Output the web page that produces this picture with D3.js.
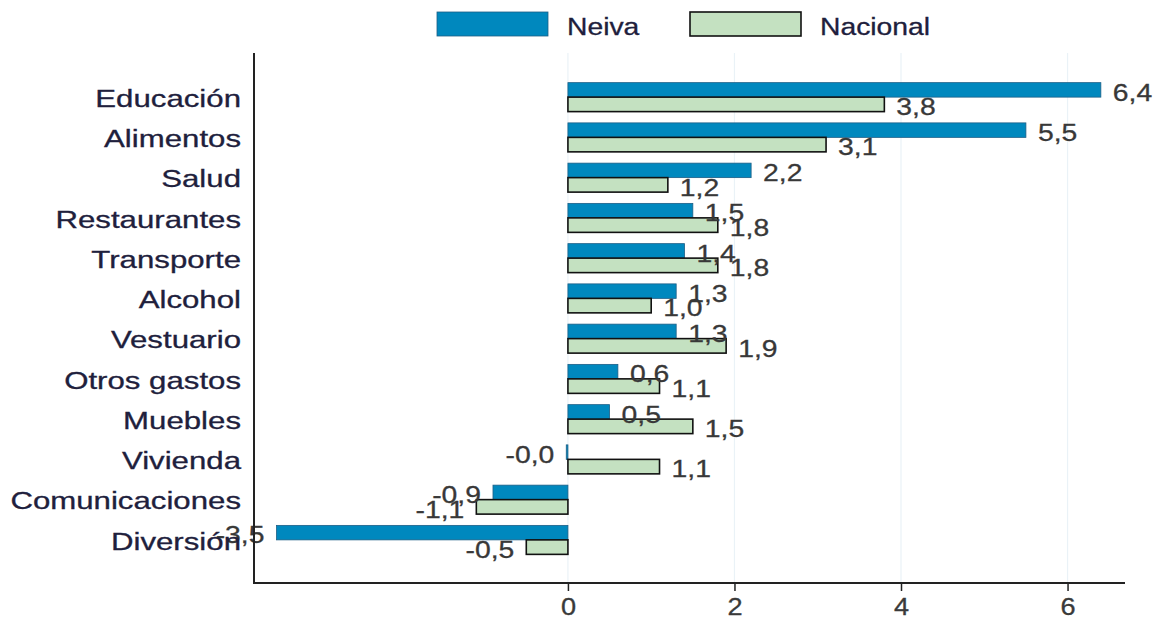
<!DOCTYPE html>
<html>
<head>
<meta charset="utf-8">
<script src="https://cdn.jsdelivr.net/npm/d3@7"></script>
<style>
  body { margin: 0; background: #fff; }
  svg text { font-family: "Liberation Sans", Arial, sans-serif; }
  .cat { fill: #20203c; font-size: 24px; stroke: #20203c; stroke-width: 0.3px; }
  .val { fill: #383838; font-size: 24px; stroke: #383838; stroke-width: 0.3px; }
  .tick text { fill: #3a3a3a; font-size: 23px; stroke: #3a3a3a; stroke-width: 0.3px; }
  .legtext { fill: #20203c; font-size: 24px; stroke: #20203c; stroke-width: 0.3px; }
</style>
</head>
<body>
<svg></svg>
<script>
var categories = ["Educación", "Alimentos", "Salud", "Restaurantes", "Transporte", "Alcohol",
                  "Vestuario", "Otros gastos", "Muebles", "Vivienda", "Comunicaciones", "Diversión"];
var neiva    = [6.4, 5.5, 2.2, 1.5, 1.4, 1.3, 1.3, 0.6, 0.5, -0.02, -0.9, -3.5];
var nacional = [3.8, 3.1, 1.2, 1.8, 1.8, 1.0, 1.9, 1.1, 1.5, 1.1, -1.1, -0.5];
var seriesNames = ["Neiva", "Nacional"];
var xTicks = [0, 2, 4, 6];

var width = 1153, height = 619;
var sx = 1.18;    // the picture is stretched horizontally
var sxCat = 1.3;
var svg = d3.select('svg').attr('width', width).attr('height', height);

var colors = { Neiva: '#0088be', Nacional: '#c4e1c1' };
var strokes = { Neiva: '#1d5f86', Nacional: '#111' };

var x = d3.scaleLinear().domain([-3.77, 6.69]).range([254, 1125]);
var y = d3.scaleBand().domain(categories).range([77, 560]).paddingInner(0.28).paddingOuter(0.14);
var ySub = d3.scaleBand().domain(seriesNames).range([0, y.bandwidth()]);

var rows = categories.map(function(c, i) {
    return { cat: c, values: [{ s: "Neiva", v: neiva[i] }, { s: "Nacional", v: nacional[i] }] };
});

// grid
svg.append('g').selectAll('line').data(xTicks).enter().append('line')
    .attr('x1', function(d) { return x(d); }).attr('x2', function(d) { return x(d); })
    .attr('y1', 53).attr('y2', 583)
    .attr('stroke', '#eaf2f7').attr('stroke-width', 1.2);

// bars
var groups = svg.append('g').selectAll('g').data(rows).enter().append('g')
    .attr('transform', function(d) { return 'translate(0,' + y(d.cat) + ')'; });

groups.selectAll('rect').data(function(d) { return d.values; }).enter().append('rect')
    .attr('x', function(d) { return x(Math.min(0, d.v)); })
    .attr('y', function(d) { return ySub(d.s); })
    .attr('width', function(d) { return Math.max(1, Math.abs(x(d.v) - x(0))); })
    .attr('height', ySub.bandwidth())
    .attr('fill', function(d) { return colors[d.s]; })
    .attr('stroke', function(d) { return strokes[d.s]; })
    .attr('stroke-width', function(d) { return d.s == "Nacional" ? 1.6 : 0.8; });

groups.selectAll('text').data(function(d) { return d.values; }).enter().append('text')
    .attr('class', 'val')
    .attr('transform', function(d) {
        var px = d.v < 0 ? x(d.v) - 12 : x(d.v) + 12;
        return 'translate(' + px + ',' + (ySub(d.s) + ySub.bandwidth() / 2 + 2) + ') scale(' + sx + ',1)';
    })
    .attr('dy', '0.36em')
    .style('text-anchor', function(d) { return d.v < 0 ? 'end' : 'start'; })
    .text(function(d) { return d.v.toFixed(1).replace('.', ','); });

// category labels
svg.append('g').selectAll('text').data(categories).enter().append('text')
    .attr('class', 'cat')
    .attr('transform', function(d) { return 'translate(241,' + (y(d) + y.bandwidth() / 2 + 1) + ') scale(' + sxCat + ',1)'; })
    .attr('dy', '0.36em')
    .style('text-anchor', 'end')
    .text(function(d) { return d; });

// axes
var xAxis = svg.append('g')
    .attr('transform', 'translate(0,583)')
    .call(d3.axisBottom(x).tickValues(xTicks).tickSize(8).tickSizeOuter(0).tickPadding(8).tickFormat(d3.format('d')));
xAxis.select('.domain').remove();
xAxis.selectAll('.tick line').attr('stroke', '#222').attr('stroke-width', 1.5);
xAxis.selectAll('.tick text').attr('transform', 'scale(' + sx + ',1)').attr('font-family', null).attr('font-size', null);

svg.append('line').attr('x1', 254).attr('x2', 1125).attr('y1', 583).attr('y2', 583)
    .attr('stroke', '#222').attr('stroke-width', 2);
svg.append('line').attr('x1', 254).attr('x2', 254).attr('y1', 53).attr('y2', 584)
    .attr('stroke', '#222').attr('stroke-width', 2);

// legend
var legX = { Neiva: 437, Nacional: 690 };
var leg = svg.append('g').selectAll('g').data(seriesNames).enter().append('g')
    .attr('transform', function(d) { return 'translate(' + legX[d] + ',12)'; });
leg.append('rect').attr('width', 111).attr('height', 24)
    .attr('fill', function(d) { return colors[d]; })
    .attr('stroke', function(d) { return strokes[d]; })
    .attr('stroke-width', function(d) { return d == "Nacional" ? 1.6 : 0.8; });
leg.append('text').attr('class', 'legtext')
    .attr('transform', 'translate(130,14) scale(' + sx + ',1)')
    .attr('dy', '0.36em')
    .text(function(d) { return d; });
</script>
</body>
</html>
